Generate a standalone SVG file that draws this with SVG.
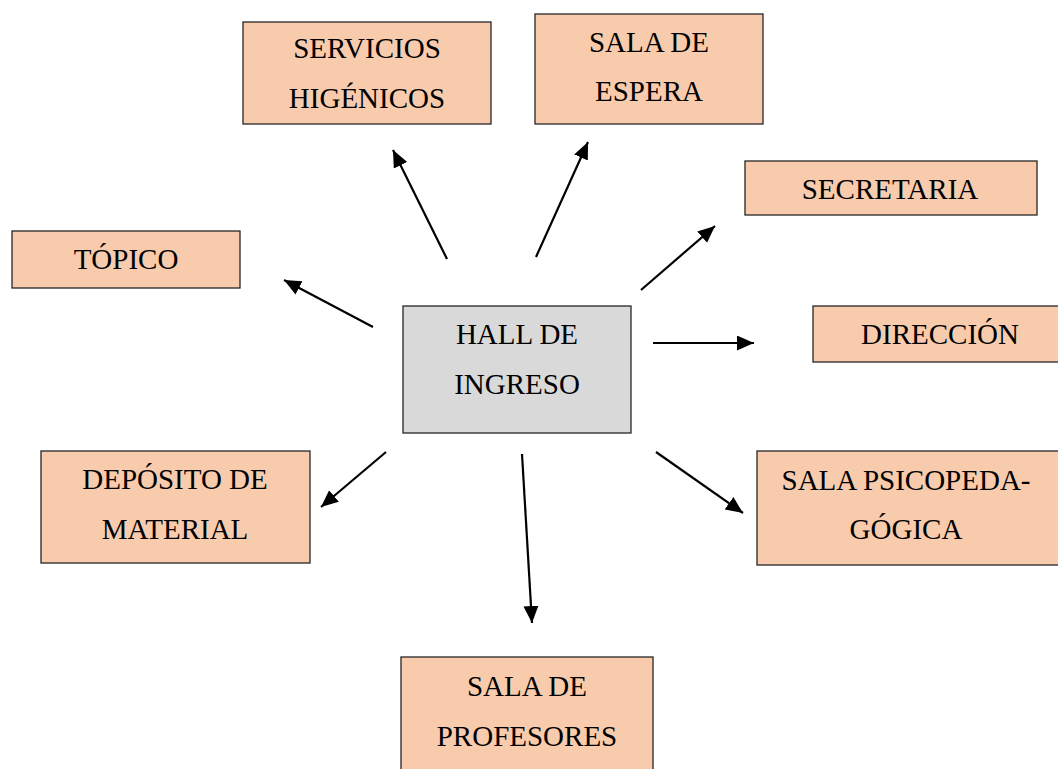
<svg xmlns="http://www.w3.org/2000/svg" width="1058" height="769" viewBox="0 0 1058 769">
<style>
.box{fill:#f8cbad;stroke:#262626;stroke-width:1.3}
.hall{fill:#d9d9d9;stroke:#262626;stroke-width:1.3}
text{font-family:"Liberation Serif","Times New Roman",serif;font-size:29px;fill:#000;text-anchor:middle}
.c line{stroke:#000;stroke-width:2.2;marker-end:url(#ah)}
</style>
<defs>
<marker id="ah" markerUnits="userSpaceOnUse" markerWidth="18" markerHeight="16" refX="17" refY="7.5" orient="auto">
<path d="M0,0 L17,7.5 L0,15 z" fill="#000"/>
</marker>
</defs>
<rect width="1058" height="769" fill="#fff"/>
<g id="servicios"><rect class="box" x="243" y="22" width="248" height="102"/><text x="367" y="58">SERVICIOS</text><text x="367" y="108">HIGÉNICOS</text></g>
<g id="espera"><rect class="box" x="535" y="14" width="228" height="110"/><text x="649" y="52">SALA DE</text><text x="649" y="101">ESPERA</text></g>
<g id="secretaria"><rect class="box" x="745" y="161" width="292" height="54"/><text x="890" y="199">SECRETARIA</text></g>
<g id="topico"><rect class="box" x="12" y="231" width="228" height="57"/><text x="126" y="269">TÓPICO</text></g>
<g id="hall"><rect class="hall" x="403" y="306" width="228" height="127"/><text x="517" y="344">HALL DE</text><text x="517" y="394">INGRESO</text></g>
<g id="direccion"><rect class="box" x="813" y="306" width="250" height="56"/><text x="940" y="344">DIRECCIÓN</text></g>
<g id="deposito"><rect class="box" x="41" y="451" width="269" height="112"/><text x="175" y="489">DEPÓSITO DE</text><text x="175" y="539">MATERIAL</text></g>
<g id="psico"><rect class="box" x="757" y="451" width="306" height="114"/><text x="906" y="490">SALA PSICOPEDA-</text><text x="906" y="539">GÓGICA</text></g>
<g id="profesores"><rect class="box" x="401" y="657" width="252" height="118"/><text x="527" y="696">SALA DE</text><text x="527" y="746">PROFESORES</text></g>
<g id="connectors" class="c">
<line x1="447" y1="259" x2="393" y2="150"/>
<line x1="536" y1="257" x2="588" y2="142"/>
<line x1="641" y1="290" x2="715" y2="226"/>
<line x1="373" y1="327" x2="284" y2="280"/>
<line x1="653" y1="343" x2="754" y2="343"/>
<line x1="386" y1="452" x2="321" y2="507"/>
<line x1="522" y1="454" x2="532" y2="623"/>
<line x1="656" y1="452" x2="743" y2="513"/>
</g>
</svg>
